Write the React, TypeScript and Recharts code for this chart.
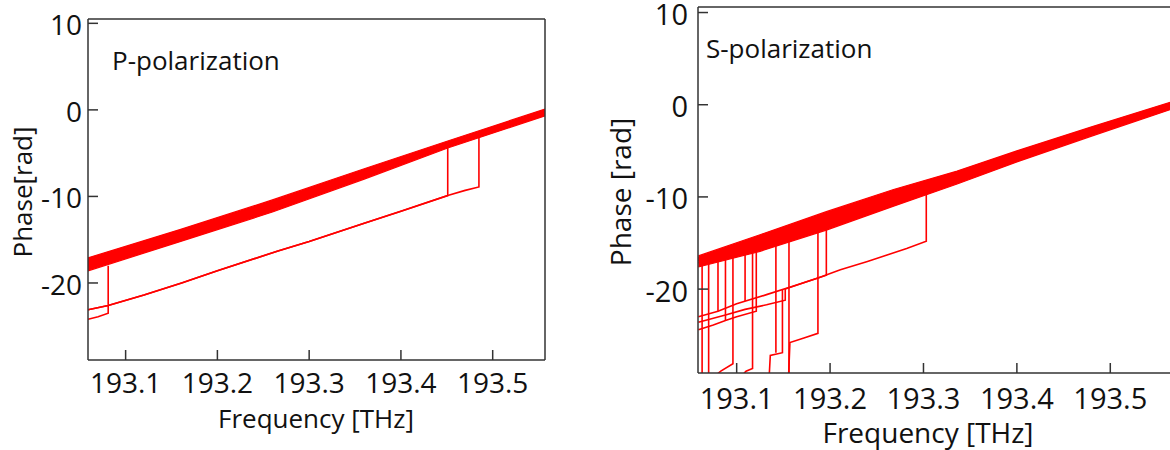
import { ComposedChart, Area, Line, XAxis, YAxis, ReferenceLine } from "recharts";

const FONT = '"Open Sans", "DejaVu Sans", sans-serif';
const RED = "#ff0000";
const FRAME = "#333333";

type Pt = [number, number];

// ---- P-polarization (left panel) ----
const pFreqTicks = [193.1, 193.2, 193.3, 193.4, 193.5];
const pPhaseTicks = [-20, -10, 0, 10];

// thick band of overlapping traces: lower / upper edge
const pBandFreq = [193.059, 193.16, 193.26, 193.36, 193.451, 193.557];
const pBandLow = [-18.6, -15.2, -11.8, -8.0, -4.4, -0.7];
const pBandHigh = [-17.1, -13.8, -10.4, -6.8, -3.6, 0.1];

// single traces that slipped by 2π
const pTrace1: Pt[] = [
  [193.059, -23.1], [193.081, -22.6], [193.12, -21.4], [193.161, -20.0], [193.2, -18.6],
  [193.266, -16.3], [193.3, -15.2], [193.36, -13.1], [193.4, -11.7], [193.451, -9.9], [193.451, -3.9],
];
const pTrace2: Pt[] = [
  [193.059, -23.1], [193.081, -22.6], [193.12, -21.4], [193.161, -20.0], [193.2, -18.6],
  [193.266, -16.3], [193.3, -15.2], [193.36, -13.1], [193.4, -11.7], [193.451, -9.9],
  [193.47, -9.3], [193.485, -8.9], [193.485, -2.9],
];
const pTrace3: Pt[] = [[193.059, -24.2], [193.07, -23.9], [193.081, -23.5], [193.081, -18.0]];

// ---- S-polarization (right panel) ----
const sFreqTicks = [193.1, 193.2, 193.3, 193.4, 193.5];
const sPhaseTicks = [-20, -10, 0, 10];

const sBandFreq = [193.059, 193.125, 193.196, 193.268, 193.336, 193.4, 193.48, 193.565];
const sBandLow = [-17.6, -15.9, -13.6, -11.0, -8.6, -6.2, -3.4, -0.5];
const sBandHigh = [-16.4, -14.1, -11.6, -9.2, -7.2, -5.0, -2.4, 0.3];

const sTraceA: Pt[] = [
  [193.059, -23.0], [193.08, -22.4], [193.1, -21.6], [193.132, -20.6], [193.16, -19.7],
  [193.187, -18.8], [193.211, -17.9], [193.24, -17.0], [193.261, -16.3], [193.282, -15.6],
  [193.303, -14.8], [193.303, -8.8],
];
const sTraceB: Pt[] = [
  [193.059, -23.6], [193.088, -22.8], [193.109, -22.2], [193.132, -21.7], [193.152, -21.2],
  [193.152, -20.0], [193.175, -19.2], [193.196, -18.5], [193.196, -12.6],
];
const sTraceC: Pt[] = [
  [193.059, -24.4], [193.075, -23.9], [193.088, -23.4], [193.1, -23.0], [193.121, -22.4], [193.121, -15.0],
];
const sTraceD: Pt[] = [[193.059, -17.1], [193.063, -17.2], [193.063, -32]];
const sTraceE: Pt[] = [[193.059, -16.8], [193.07, -16.9], [193.07, -32]];
const sTraceF: Pt[] = [[193.059, -16.6], [193.08, -16.5], [193.08, -22.4]];
const sTraceG: Pt[] = [[193.059, -16.9], [193.088, -16.2], [193.088, -23.4]];
const sTraceH: Pt[] = [[193.07, -30], [193.083, -28.9], [193.096, -28.1], [193.096, -16.0]];
const sTraceI: Pt[] = [[193.059, -16.7], [193.109, -15.6], [193.109, -21.3]];
const sTraceJ: Pt[] = [[193.1, -30], [193.11, -28.9], [193.117, -28.6], [193.117, -15.3]];
const sTraceK: Pt[] = [[193.134, -31], [193.136, -27.2], [193.149, -26.9], [193.149, -20.1]];
const sTraceL: Pt[] = [[193.059, -16.9], [193.142, -14.8], [193.142, -26.9]];
const sTraceM: Pt[] = [[193.059, -16.6], [193.156, -14.2], [193.156, -31]];
const sTraceN: Pt[] = [[193.155, -31], [193.157, -25.8], [193.172, -25.3], [193.187, -24.8], [193.187, -12.9]];

const bandData = (freq: number[], low: number[], high: number[]) =>
  freq.map((f, i) => ({ f, range: [low[i], high[i]] }));
const traceData = (t: Pt[]) => t.map(([f, v]) => ({ f, v }));

const makeYTick = (gap: number, fontSize: number) => (props: any) => {
  const { x, y, payload } = props;
  return (
    <g>
      <line x1={x + gap} x2={x + gap + 10} y1={y} y2={y} stroke={FRAME} strokeWidth={1.5} />
      <text x={x} y={y} dy="0.43em" textAnchor="end" fontSize={fontSize} fontFamily={FONT} fill="#111">
        {payload.value}
      </text>
    </g>
  );
};

const makeXTick = (gap: number, fontSize: number) => (props: any) => {
  const { x, y, payload } = props;
  return (
    <g>
      <line x1={x} x2={x} y1={y - gap} y2={y - gap - 10} stroke={FRAME} strokeWidth={1.5} />
      <text x={x} y={y} dy="0.71em" textAnchor="middle" fontSize={fontSize} fontFamily={FONT} fill="#111">
        {Number(payload.value).toFixed(1)}
      </text>
    </g>
  );
};

interface PanelProps {
  width: number;
  margin: { top: number; right: number; bottom: number; left: number };
  xDomain: [number, number];
  yDomain: [number, number];
  xTicks: number[];
  yTicks: number[];
  band: { f: number; range: number[] }[];
  traces: Pt[][];
  title: string;
  titleX: number;
  titleY: number;
  yLabel: string;
  yLabelX: number;
  xLabelX: number;
  xLabelY: number;
  tickFont: number;
  labelFont: number;
  xGap: number;
  yGap: number;
}

function Panel(p: PanelProps) {
  return (
    <ComposedChart width={p.width} height={450} margin={p.margin}>
      <XAxis
        dataKey="f"
        type="number"
        domain={p.xDomain}
        ticks={p.xTicks}
        interval={0}
        allowDataOverflow
        height={30}
        tickSize={0}
        tickMargin={p.xGap}
        axisLine={{ stroke: FRAME, strokeWidth: 1.5 }}
        tickLine={false}
        tick={makeXTick(p.xGap, p.tickFont)}
      />
      <YAxis
        type="number"
        domain={p.yDomain}
        ticks={p.yTicks}
        interval={0}
        allowDataOverflow
        width={60}
        tickSize={0}
        tickMargin={p.yGap}
        axisLine={{ stroke: FRAME, strokeWidth: 1.5 }}
        tickLine={false}
        tick={makeYTick(p.yGap, p.tickFont)}
      />
      <ReferenceLine y={p.yDomain[1]} stroke={FRAME} strokeWidth={1.5} />
      <ReferenceLine x={p.xDomain[1]} stroke={FRAME} strokeWidth={1.5} />
      <Area
        data={p.band}
        dataKey="range"
        type="linear"
        stroke={RED}
        strokeWidth={1.2}
        fill={RED}
        fillOpacity={1}
        isAnimationActive={false}
        dot={false}
        activeDot={false}
      />
      {p.traces.map((t, i) => (
        <Line
          key={i}
          data={traceData(t)}
          dataKey="v"
          type="linear"
          stroke={RED}
          strokeWidth={1.6}
          dot={false}
          activeDot={false}
          isAnimationActive={false}
        />
      ))}
      <text x={p.titleX} y={p.titleY} fontSize={26} fontFamily={FONT} fill="#111">
        {p.title}
      </text>
      <text
        transform="rotate(-90)"
        x={-192}
        y={p.yLabelX}
        textAnchor="middle"
        fontSize={p.labelFont}
        fontFamily={FONT}
        fill="#111"
      >
        {p.yLabel}
      </text>
      <text x={p.xLabelX} y={p.xLabelY} textAnchor="middle" fontSize={p.labelFont} fontFamily={FONT} fill="#111">
        Frequency [THz]
      </text>
    </ComposedChart>
  );
}

export default function App() {
  return (
    <div
      style={{
        position: "absolute",
        left: 0,
        top: 0,
        width: 1170,
        height: 450,
        overflow: "hidden",
        background: "#fff",
      }}
    >
      <div style={{ position: "absolute", left: 0, top: 0 }}>
        <Panel
          width={560}
          margin={{ top: 19, right: 15, bottom: 60, left: 28 }}
          xDomain={[193.059, 193.557]}
          yDomain={[-28.9, 10.5]}
          xTicks={pFreqTicks}
          yTicks={pPhaseTicks}
          band={bandData(pBandFreq, pBandLow, pBandHigh)}
          traces={[pTrace1, pTrace2, pTrace3]}
          title="P-polarization"
          titleX={112}
          titleY={70}
          yLabel="Phase[rad]"
          yLabelX={32}
          xLabelX={316}
          xLabelY={428}
          tickFont={28}
          labelFont={26}
          xGap={13}
          yGap={6}
        />
      </div>
      <div style={{ position: "absolute", left: 600, top: 0 }}>
        <Panel
          width={575}
          margin={{ top: 7, right: 4, bottom: 47, left: 38 }}
          xDomain={[193.0586, 193.565]}
          yDomain={[-29.1, 10.6]}
          xTicks={sFreqTicks}
          yTicks={sPhaseTicks}
          band={bandData(sBandFreq, sBandLow, sBandHigh)}
          traces={[
            sTraceA, sTraceB, sTraceC, sTraceD, sTraceE, sTraceF, sTraceG,
            sTraceH, sTraceI, sTraceJ, sTraceK, sTraceL, sTraceM, sTraceN,
          ]}
          title="S-polarization"
          titleX={106}
          titleY={58}
          yLabel="Phase [rad]"
          yLabelX={31}
          xLabelX={328}
          xLabelY={443}
          tickFont={29}
          labelFont={28}
          xGap={15}
          yGap={10}
        />
      </div>
    </div>
  );
}
